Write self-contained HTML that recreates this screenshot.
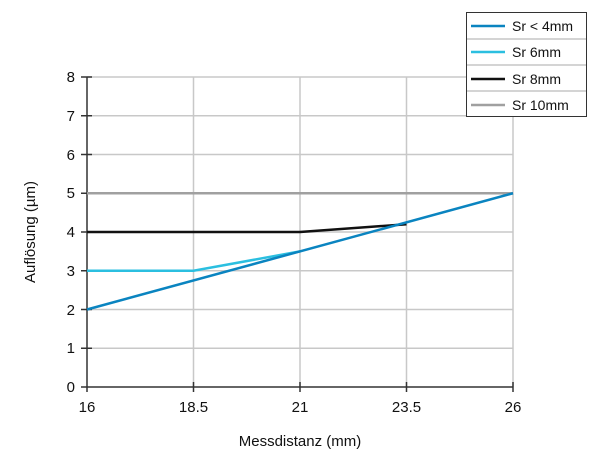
<!DOCTYPE html>
<html><head><style>body{margin:0;background:#fff}</style></head><body>
<svg width="600" height="464" xmlns="http://www.w3.org/2000/svg" font-family="Liberation Sans, sans-serif">
<rect width="600" height="464" fill="#fff"/>
<g stroke="#c8c8c8" stroke-width="1.5">
<line x1="87" y1="348.25" x2="513" y2="348.25"/><line x1="87" y1="309.5" x2="513" y2="309.5"/>
<line x1="87" y1="270.75" x2="513" y2="270.75"/><line x1="87" y1="232" x2="513" y2="232"/>
<line x1="87" y1="193.25" x2="513" y2="193.25"/><line x1="87" y1="154.5" x2="513" y2="154.5"/>
<line x1="87" y1="115.75" x2="513" y2="115.75"/><line x1="87" y1="77" x2="513" y2="77"/>
<line x1="193.5" y1="77" x2="193.5" y2="387"/><line x1="300" y1="77" x2="300" y2="387"/>
<line x1="406.5" y1="77" x2="406.5" y2="387"/><line x1="513" y1="77" x2="513" y2="387"/>
</g>
<g stroke="#333" stroke-width="1.5">
<line x1="87" y1="77" x2="87" y2="392"/><line x1="81" y1="387" x2="513" y2="387"/>
<line x1="81" y1="348.25" x2="92" y2="348.25"/><line x1="81" y1="309.5" x2="92" y2="309.5"/>
<line x1="81" y1="270.75" x2="92" y2="270.75"/><line x1="81" y1="232" x2="92" y2="232"/>
<line x1="81" y1="193.25" x2="92" y2="193.25"/><line x1="81" y1="154.5" x2="92" y2="154.5"/>
<line x1="81" y1="115.75" x2="92" y2="115.75"/><line x1="81" y1="77" x2="92" y2="77"/>
<line x1="193.5" y1="382" x2="193.5" y2="392"/><line x1="300" y1="382" x2="300" y2="392"/>
<line x1="406.5" y1="382" x2="406.5" y2="392"/><line x1="513" y1="382" x2="513" y2="392"/>
</g>
<g fill="none" stroke-width="2.5">
<polyline points="87,193.25 513,193.25" stroke="#a0a0a0"/>
<polyline points="87,232 300,232 406.5,224.25" stroke="#111"/>
<polyline points="87,270.75 193.5,270.75 300,251.4" stroke="#2bbfe0"/>
<polyline points="87,309.5 513,193.25" stroke="#0a84c0"/>
</g>
<g font-size="15" fill="#111" text-anchor="end">
<text x="75" y="392">0</text><text x="75" y="353">1</text><text x="75" y="315">2</text>
<text x="75" y="276">3</text><text x="75" y="237">4</text><text x="75" y="198">5</text>
<text x="75" y="160">6</text><text x="75" y="121">7</text><text x="75" y="82">8</text>
</g>
<g font-size="15" fill="#111" text-anchor="middle">
<text x="87" y="412">16</text><text x="193.5" y="412">18.5</text><text x="300" y="412">21</text>
<text x="406.5" y="412">23.5</text><text x="513" y="412">26</text>
<text x="300" y="446">Messdistanz (mm)</text>
<text transform="translate(35,232) rotate(-90)">Auflösung (µm)</text>
</g>
<rect x="466.5" y="12.5" width="120" height="104" fill="#fff" stroke="#333" stroke-width="1"/>
<g stroke="#aaa" stroke-width="1"><line x1="467" y1="39" x2="586" y2="39"/><line x1="467" y1="65" x2="586" y2="65"/><line x1="467" y1="91" x2="586" y2="91"/></g>
<g stroke-width="2.5"><line x1="471" y1="26" x2="505" y2="26" stroke="#0a84c0"/><line x1="471" y1="52" x2="505" y2="52" stroke="#2bbfe0"/><line x1="471" y1="79" x2="505" y2="79" stroke="#111"/><line x1="471" y1="105" x2="505" y2="105" stroke="#a0a0a0"/></g>
<g font-size="14" fill="#111"><text x="512" y="31">Sr &lt; 4mm</text><text x="512" y="57">Sr 6mm</text><text x="512" y="84">Sr 8mm</text><text x="512" y="110">Sr 10mm</text></g>
</svg>
</body></html>
